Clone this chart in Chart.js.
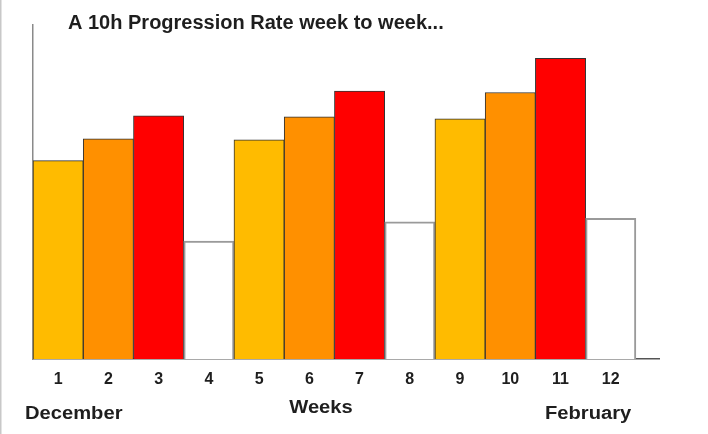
<!DOCTYPE html>
<html>
<head>
<meta charset="utf-8">
<script src="https://cdn.jsdelivr.net/npm/chart.js@4/dist/chart.umd.min.js"></script>
<style>
  html, body { margin: 0; padding: 0; background: #fff; }
</style>
</head>
<body>
<canvas id="chart" width="708" height="434"></canvas>
<script>
const weeks = [1, 2, 3, 4, 5, 6, 7, 8, 9, 10, 11, 12];
const rates = [59.4, 65.9, 72.8, 35.3, 65.6, 72.5, 80.2, 41.1, 71.9, 79.8, 90.0, 42.1];
const title = 'A 10h Progression Rate week to week...';
const startMonth = 'December';
const endMonth = 'February';
const axisTitle = 'Weeks';

// yellow, orange, red, empty repeating every 4 weeks
const palette = ['#FFBB00', '#FF9000', '#FF0000', '#FFFFFF'];
const fills = weeks.map((w, i) => palette[i % 4]);
const edges = weeks.map((w, i) => i % 4 === 3 ? '#9a9a9a' : '#333333');
const edgeWidths = weeks.map((w, i) => i % 4 === 3 ? 2 : 1);

const textColor = '#1e1e1e';
const font = 'Liberation Sans, Arial, sans-serif';

// the lower labels in the picture are a bit wider than the font
function wideText(c, text, x, y, align) {
  const sx = 1.12;
  c.save();
  c.translate(x, y);
  c.scale(sx, 1);
  c.textAlign = align;
  c.fillText(text, 0, 0);
  c.restore();
}

const textPlugin = {
  id: 'texts',
  beforeDraw(chart) {
    const c = chart.ctx;
    c.save();
    c.fillStyle = '#c8c8c8';
    c.fillRect(0, 0, 1.5, chart.height);
    c.restore();
  },
  afterDraw(chart) {
    const c = chart.ctx;
    const area = chart.chartArea;
    c.save();
    c.fillStyle = textColor;
    c.textBaseline = 'alphabetic';
    c.textAlign = 'left';
    c.font = 'bold 20px ' + font;
    c.fillText(title, 68, 29);
    c.font = 'bold 18px ' + font;
    wideText(c, startMonth, area.left - 8, area.bottom + 60, 'left');
    wideText(c, endMonth, 545, area.bottom + 60, 'left');
    wideText(c, axisTitle, 321, area.bottom + 54, 'center');
    c.restore();
  }
};

new Chart(document.getElementById('chart'), {
  type: 'bar',
  data: {
    datasets: [{
      data: weeks.map((w, i) => ({ x: w, y: rates[i] })),
      backgroundColor: fills,
      borderColor: edges,
      borderWidth: edgeWidths,
      barPercentage: 1,
      categoryPercentage: 1
    }]
  },
  options: {
    responsive: false,
    animation: false,
    devicePixelRatio: 1,
    layout: { padding: { top: 25, right: 49, left: 0, bottom: 0 } },
    plugins: {
      legend: { display: false },
      tooltip: { enabled: false }
    },
    scales: {
      x: {
        type: 'linear',
        offset: false,
        min: 0.5,
        max: 12.96,
        afterBuildTicks: (scale) => { scale.ticks = weeks.map(v => ({ value: v })); },
        afterFit: (scale) => { scale.height = 75; },
        grid: { display: false, drawTicks: false },
        border: { color: '#555555', width: 1.5 },
        ticks: {
          padding: 11,
          color: textColor,
          font: { family: font, size: 16, weight: 'bold' },
          maxRotation: 0,
          autoSkip: false
        }
      },
      y: {
        min: 0,
        max: 100,
        afterFit: (scale) => { scale.width = 33; },
        grid: { display: false, drawTicks: false },
        border: { color: '#8a8a8a', width: 1.5 },
        ticks: { display: false }
      }
    }
  },
  plugins: [textPlugin]
});
</script>
</body>
</html>
